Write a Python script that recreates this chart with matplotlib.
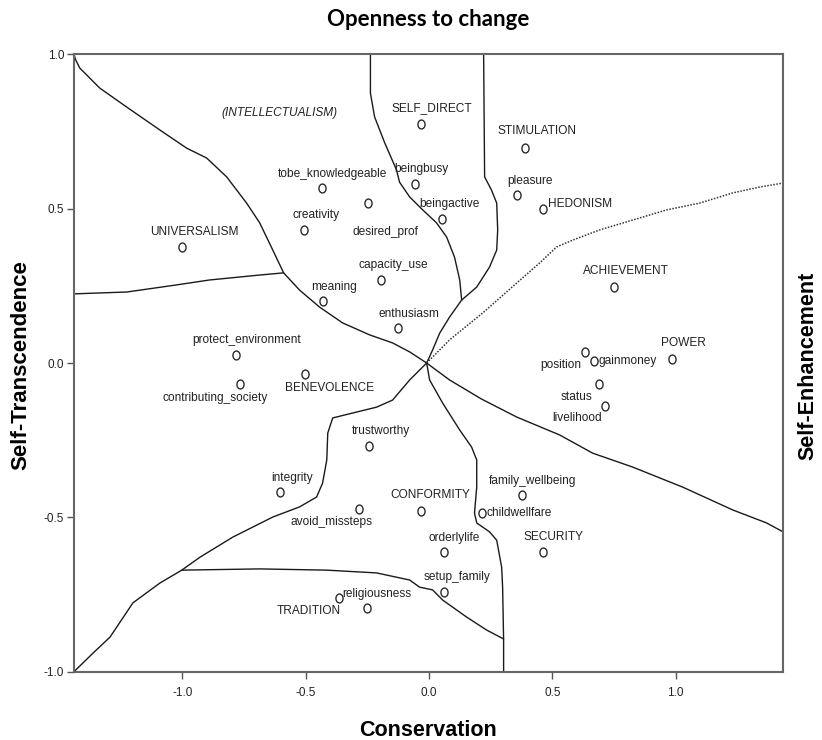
import numpy as np
import matplotlib
matplotlib.use("Agg")
import matplotlib.pyplot as plt
from matplotlib import font_manager as fm
from matplotlib.path import Path

# ---------------- data ----------------
labels = ["SELF_DIRECT", "STIMULATION", "tobe_knowledgeable", "desired_prof", "beingbusy",
          "beingactive", "pleasure", "HEDONISM", "creativity", "UNIVERSALISM",
          "capacity_use", "meaning", "enthusiasm", "ACHIEVEMENT", "POWER",
          "position", "gainmoney", "status", "livelihood", "protect_environment",
          "BENEVOLENCE", "contributing_society", "trustworthy", "integrity", "avoid_missteps",
          "CONFORMITY", "religiousness", "TRADITION", "family_wellbeing", "childwellfare",
          "orderlylife", "SECURITY", "setup_family"]
dim1 = [-0.033, 0.388, -0.435, -0.248, -0.058,
        0.054, 0.355, 0.463, -0.507, -1.002,
        -0.195, -0.430, -0.128, 0.748, 0.983,
        0.630, 0.667, 0.687, 0.715, -0.783,
        -0.503, -0.768, -0.245, -0.606, -0.286,
        -0.034, -0.367, -0.253, 0.375, 0.213,
        0.059, 0.460, 0.059]
dim2 = [0.774, 0.696, 0.566, 0.518, 0.580,
        0.466, 0.544, 0.500, 0.430, 0.375,
        0.270, 0.200, 0.113, 0.247, 0.013,
        0.036, 0.006, -0.068, -0.139, 0.027,
        -0.037, -0.067, -0.269, -0.418, -0.473,
        -0.479, -0.761, -0.794, -0.428, -0.486,
        -0.612, -0.612, -0.742]

region_note = "(INTELLECTUALISM)"
region_note_xy = (-0.606, 0.810)

x_ticks = [-1.0, -0.5, 0.0, 0.5, 1.0]
y_ticks = [-1.0, -0.5, 0.0, 0.5, 1.0]

# region boundaries (solid)
bound_a_x = [-1.44, -1.433, -1.417, -1.336, -1.226, -1.092, -0.983, -0.902, -0.821, -0.740,
             -0.687, -0.634, -0.590, -0.525, -0.444, -0.351, -0.241, -0.148, -0.079, -0.010]
bound_a_y = [1.0, 0.982, 0.956, 0.891, 0.829, 0.755, 0.696, 0.664, 0.603, 0.518,
             0.454, 0.366, 0.292, 0.236, 0.181, 0.130, 0.091, 0.065, 0.036, 0.0]
bound_b_x = [-1.44, -1.226, -1.024, -0.890, -0.687, -0.590]
bound_b_y = [0.224, 0.230, 0.253, 0.269, 0.285, 0.292]
bound_c_x = [-0.238, -0.238, -0.221, -0.180, -0.132, -0.120, -0.079, -0.026, 0.030, 0.071,
             0.103, 0.124, 0.132]
bound_c_y = [1.0, 0.874, 0.797, 0.713, 0.625, 0.586, 0.538, 0.496, 0.454, 0.408,
             0.343, 0.269, 0.204]
bound_d_x = [0.221, 0.225, 0.253, 0.274, 0.278, 0.274, 0.245, 0.193, 0.132]
bound_d_y = [1.0, 0.603, 0.560, 0.518, 0.431, 0.366, 0.311, 0.246, 0.204]
bound_e_x = [0.132, 0.083, 0.043, 0.014, -0.010]
bound_e_y = [0.204, 0.149, 0.097, 0.042, 0.0]
bound_g_x = [-0.010, 0.083, 0.213, 0.355, 0.529, 0.663, 0.825, 1.028, 1.231, 1.368, 1.435]
bound_g_y = [0.0, -0.055, -0.117, -0.175, -0.233, -0.292, -0.337, -0.402, -0.476, -0.518, -0.547]
bound_h_x = [-0.010, 0.002, 0.055, 0.124, 0.172, 0.193, 0.193, 0.184, 0.193, 0.245,
             0.274, 0.294, 0.298, 0.302, 0.302]
bound_h_y = [0.0, -0.055, -0.130, -0.217, -0.272, -0.314, -0.402, -0.486, -0.518, -0.547,
             -0.574, -0.661, -0.726, -0.897, -1.0]
bound_i_x = [-0.010, -0.079, -0.148, -0.213, -0.310, -0.391, -0.411, -0.415, -0.432, -0.456,
             -0.525, -0.634, -0.796, -0.929, -1.003, -1.092, -1.201, -1.294, -1.363, -1.44]
bound_i_y = [0.0, -0.055, -0.120, -0.143, -0.162, -0.178, -0.227, -0.314, -0.389, -0.434,
             -0.466, -0.499, -0.564, -0.629, -0.671, -0.713, -0.777, -0.888, -0.940, -1.0]
bound_j_x = [-1.003, -0.687, -0.416, -0.213, -0.079, -0.039, 0.014, 0.055, 0.152, 0.233, 0.302]
bound_j_y = [-0.671, -0.667, -0.671, -0.680, -0.703, -0.726, -0.735, -0.768, -0.823, -0.865, -0.894]
# dotted boundary
bound_f_x = [-0.010, 0.083, 0.217, 0.355, 0.448, 0.517, 0.582, 0.691, 0.825, 0.963,
             1.097, 1.231, 1.340, 1.435]
bound_f_y = [0.0, 0.075, 0.162, 0.259, 0.324, 0.376, 0.398, 0.431, 0.463, 0.496,
             0.518, 0.551, 0.570, 0.583]

# ---------------- label placement (pixels offset, alignment) ----------------
placement = {
    "SELF_DIRECT": (11, 16, "center"), "STIMULATION": (12, 17, "center"),
    "tobe_knowledgeable": (11, 14, "center"), "desired_prof": (17, -29, "center"),
    "beingbusy": (7, 15, "center"), "beingactive": (7, 15, "center"),
    "pleasure": (13, 14, "center"), "HEDONISM": (5, 5, "left"),
    "creativity": (12, 15, "center"), "UNIVERSALISM": (12, 15, "center"),
    "capacity_use": (12, 15, "center"), "meaning": (11, 14, "center"),
    "enthusiasm": (11, 14, "center"), "ACHIEVEMENT": (12, 16, "center"),
    "POWER": (12, 16, "center"), "position": (-3, -13, "right"),
    "gainmoney": (5, 0, "left"), "status": (-6, -13, "right"),
    "livelihood": (-4, -12, "right"), "protect_environment": (11, 15, "center"),
    "BENEVOLENCE": (24, -14, "center"), "contributing_society": (-25, -14, "center"),
    "trustworthy": (12, 15, "center"), "integrity": (12, 14, "center"),
    "avoid_missteps": (-27, -13, "center"), "CONFORMITY": (10, 16, "center"),
    "religiousness": (4, 4, "left"), "TRADITION": (-26, -3, "right"),
    "family_wellbeing": (11, 14, "center"), "childwellfare": (5, 0, "left"),
    "orderlylife": (11, 14, "center"), "SECURITY": (11, 15, "center"),
    "setup_family": (13, 15, "center"),
}

# ---------------- fonts ----------------
names = {f.name for f in fm.fontManager.ttflist}
if "Liberation Sans Narrow" in names:
    FAM = "Liberation Sans Narrow"
    scale = 1.0
else:
    FAM = "Liberation Sans"
    scale = 0.84
plt.rcParams["font.family"] = [FAM, "DejaVu Sans"]
plt.rcParams["axes.unicode_minus"] = False

# ---------------- figure ----------------
fig = plt.figure(figsize=(8.22, 7.40), dpi=100)
ax = fig.add_axes([0.0900, 0.0923, 0.8626, 0.8343])
ax.set_xlim(-1.44, 1.435)
ax.set_ylim(-1.0, 1.0)

line_kw = dict(color="#1a1a1a", lw=1.0, solid_capstyle="round", zorder=2)
for bx, by in [(bound_a_x, bound_a_y), (bound_b_x, bound_b_y), (bound_c_x, bound_c_y),
               (bound_d_x, bound_d_y), (bound_e_x, bound_e_y), (bound_g_x, bound_g_y),
               (bound_h_x, bound_h_y), (bound_i_x, bound_i_y), (bound_j_x, bound_j_y)]:
    ax.plot(bx, by, **line_kw)
ax.plot(bound_f_x, bound_f_y, color="#333333", lw=1.1, linestyle=(0, (1, 1)), zorder=2)

t = np.linspace(0, 2 * np.pi, 60)
ellipse = Path(np.column_stack([0.8 * np.cos(t), np.sin(t)]), closed=True)
ax.plot(dim1, dim2, linestyle="none", marker=ellipse, ms=6.4, mfc="none",
        mec="#2a2a2a", mew=1.0, zorder=3)

for lab, x, y in zip(labels, dim1, dim2):
    dx, dy, ha = placement[lab]
    ax.annotate(lab, (x, y), xytext=(dx, dy), textcoords="offset pixels",
                ha=ha, va="center", fontsize=10.2 * scale, color="#222222",
                family=[FAM, "DejaVu Sans"])

ax.text(region_note_xy[0], region_note_xy[1], region_note, ha="center", va="center",
        fontsize=10.2 * scale, style="italic", color="#222222", family=[FAM, "DejaVu Sans"])

ax.set_xticks(x_ticks)
ax.set_yticks(y_ticks)
ax.set_xticklabels([f"{v:.1f}" for v in x_ticks])
ax.set_yticklabels([f"{v:.1f}" for v in y_ticks])
ax.tick_params(direction="out", length=5, width=1.0, colors="#555555",
               labelcolor="#222222", labelsize=8.5, pad=2)
ax.tick_params(axis="x", pad=6)
for sp in ax.spines.values():
    sp.set_color("#666666")
    sp.set_linewidth(1.5)

fig.text(0.5207, 1 - 20 / 740, "Openness to change", ha="center", va="center",
         fontsize=16, fontweight="bold", family=["Lato", "DejaVu Sans"])
fig.text(0.5207, 1 - 730 / 740, "Conservation", ha="center", va="center",
         fontsize=15.5, fontweight="bold", family=[FAM, "DejaVu Sans"])
fig.text(21 / 822, 1 - 365 / 740, "Self-Transcendence", ha="center", va="center",
         rotation=90, fontsize=16, fontweight="bold", family=[FAM, "DejaVu Sans"])
fig.text(808 / 822, 1 - 366 / 740, "Self-Enhancement", ha="center", va="center",
         rotation=90, fontsize=15.5, fontweight="bold", family=[FAM, "DejaVu Sans"])

fig.savefig("out.png", dpi=100, facecolor="white")
